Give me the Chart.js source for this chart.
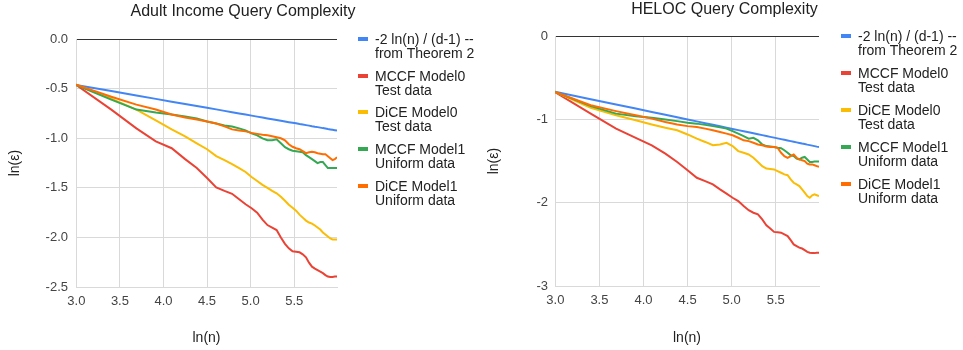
<!DOCTYPE html>
<html>
<head>
<meta charset="utf-8">
<script src="https://cdn.jsdelivr.net/npm/chart.js@4.4.1/dist/chart.umd.min.js"></script>
<style>
  body { margin: 0; background: #fff; }
  #wrap { position: relative; width: 963px; height: 350px; overflow: hidden; font-family: "Liberation Sans", Arial, sans-serif; }
  .box { position: absolute; top: 0; height: 350px; }
  .legend { position: absolute; font-size: 14px; line-height: 14px; color: #222; }
  .item { position: relative; padding-left: 17px; white-space: nowrap; }
  .swatch { position: absolute; left: 0; top: 5px; width: 10px; height: 4px; }
</style>
</head>
<body>
<div id="wrap">
  <div class="box" style="left:0;width:486px"><canvas id="adult"></canvas></div>
  <div class="box" style="left:486px;width:477px"><canvas id="heloc"></canvas></div>
  <div class="legend" id="adultLegend" style="left:358px;top:32px"></div>
  <div class="legend" id="helocLegend" style="left:841px;top:29px"></div>
</div>
<script>
// x = ln(n) for n = 20, 30, ..., 400
const lnN = [2.996, 3.401, 3.689, 3.912, 4.094, 4.248, 4.382, 4.500, 4.605, 4.700,
  4.787, 4.868, 4.942, 5.011, 5.075, 5.136, 5.193, 5.247, 5.298, 5.347,
  5.394, 5.438, 5.481, 5.521, 5.561, 5.598, 5.635, 5.670, 5.704, 5.737,
  5.768, 5.799, 5.829, 5.858, 5.886, 5.914, 5.940, 5.966, 5.991];

const seriesNames = [
  ['-2 ln(n) / (d-1) --', 'from Theorem 2'],
  ['MCCF Model0', 'Test data'],
  ['DiCE Model0', 'Test data'],
  ['MCCF Model1', 'Uniform data'],
  ['DiCE Model1', 'Uniform data']
];
const seriesColors = ['#4285f4', '#ea4335', '#fbbc04', '#34a853', '#ff6d01'];

// Adult Income
const adultBound = [-0.461, -0.523, -0.568, -0.602, -0.630, -0.654, -0.674, -0.692, -0.708, -0.723,
  -0.737, -0.749, -0.760, -0.771, -0.781, -0.790, -0.799, -0.807, -0.815, -0.823,
  -0.830, -0.837, -0.843, -0.849, -0.856, -0.861, -0.867, -0.872, -0.878, -0.883,
  -0.887, -0.892, -0.897, -0.901, -0.906, -0.910, -0.914, -0.918, -0.922];
const adultMccf0 = [-0.46, -0.71, -0.90, -1.03, -1.10, -1.21, -1.30, -1.40, -1.495, -1.53,
  -1.56, -1.615, -1.665, -1.705, -1.75, -1.82, -1.875, -1.90, -1.925, -2.00,
  -2.065, -2.11, -2.14, -2.145, -2.15, -2.17, -2.20, -2.255, -2.295, -2.315,
  -2.33, -2.345, -2.36, -2.38, -2.395, -2.40, -2.40, -2.395, -2.395];
const adultDice0 = [-0.46, -0.60, -0.71, -0.82, -0.91, -0.98, -1.05, -1.11, -1.18, -1.22,
  -1.26, -1.30, -1.34, -1.39, -1.43, -1.47, -1.50, -1.53, -1.555, -1.59,
  -1.63, -1.67, -1.70, -1.73, -1.77, -1.80, -1.83, -1.85, -1.86, -1.88,
  -1.90, -1.92, -1.95, -1.97, -1.99, -2.01, -2.02, -2.02, -2.02];
const adultMccf1 = [-0.46, -0.61, -0.71, -0.74, -0.76, -0.78, -0.80, -0.83, -0.85, -0.87,
  -0.88, -0.90, -0.92, -0.95, -0.97, -1.00, -1.02, -1.02, -1.01, -1.05,
  -1.09, -1.11, -1.125, -1.13, -1.135, -1.14, -1.17, -1.19, -1.21, -1.23,
  -1.25, -1.24, -1.24, -1.27, -1.30, -1.30, -1.30, -1.30, -1.30];
const adultDice1 = [-0.46, -0.58, -0.66, -0.71, -0.76, -0.79, -0.81, -0.83, -0.85, -0.88,
  -0.91, -0.92, -0.93, -0.945, -0.955, -0.965, -0.97, -0.98, -0.99, -1.00,
  -1.02, -1.06, -1.085, -1.10, -1.11, -1.13, -1.15, -1.14, -1.135, -1.14,
  -1.15, -1.155, -1.16, -1.16, -1.18, -1.20, -1.22, -1.21, -1.19];

// HELOC
const helocBound = [-0.666, -0.756, -0.820, -0.869, -0.910, -0.944, -0.974, -1.000, -1.023, -1.045,
  -1.064, -1.082, -1.098, -1.114, -1.128, -1.141, -1.154, -1.166, -1.177, -1.188,
  -1.199, -1.209, -1.218, -1.227, -1.236, -1.244, -1.252, -1.260, -1.268, -1.275,
  -1.282, -1.289, -1.295, -1.302, -1.308, -1.314, -1.320, -1.326, -1.331];
const helocMccf0 = [-0.67, -0.93, -1.11, -1.22, -1.31, -1.41, -1.51, -1.61, -1.70, -1.74,
  -1.78, -1.84, -1.89, -1.94, -1.98, -2.04, -2.09, -2.12, -2.14, -2.20,
  -2.27, -2.31, -2.35, -2.355, -2.36, -2.38, -2.40, -2.45, -2.50, -2.52,
  -2.54, -2.55, -2.57, -2.59, -2.60, -2.605, -2.605, -2.60, -2.60];
const helocDice0 = [-0.67, -0.86, -0.95, -1.01, -1.06, -1.10, -1.13, -1.18, -1.23, -1.27,
  -1.31, -1.30, -1.28, -1.32, -1.38, -1.40, -1.42, -1.46, -1.51, -1.56,
  -1.59, -1.595, -1.60, -1.62, -1.64, -1.66, -1.67, -1.72, -1.76, -1.78,
  -1.80, -1.84, -1.88, -1.92, -1.94, -1.91, -1.90, -1.91, -1.92];
const helocMccf1 = [-0.67, -0.84, -0.93, -0.96, -0.98, -1.00, -1.02, -1.04, -1.05, -1.065,
  -1.08, -1.095, -1.11, -1.14, -1.17, -1.20, -1.23, -1.22, -1.25, -1.30,
  -1.32, -1.325, -1.33, -1.34, -1.345, -1.37, -1.40, -1.43, -1.44, -1.47,
  -1.48, -1.46, -1.45, -1.48, -1.51, -1.51, -1.505, -1.505, -1.505];
const helocDice1 = [-0.67, -0.83, -0.90, -0.95, -0.99, -1.03, -1.06, -1.08, -1.09, -1.11,
  -1.13, -1.15, -1.17, -1.19, -1.22, -1.25, -1.26, -1.28, -1.30, -1.31,
  -1.325, -1.33, -1.33, -1.34, -1.40, -1.44, -1.46, -1.44, -1.42, -1.46,
  -1.48, -1.49, -1.50, -1.53, -1.54, -1.54, -1.55, -1.56, -1.57];

Chart.defaults.font.family = '"Liberation Sans", Arial, sans-serif';
Chart.defaults.animation = false;

var gridGray = '#d9d9d9';

function makeChart(id, opt) {
  var datasets = opt.series.map(function(s, i) {
    return {
      label: seriesNames[i].join(' '),
      data: lnN.map(function(x, j) { return { x: x, y: s[j] }; }),
      borderColor: seriesColors[i],
      backgroundColor: seriesColors[i],
      borderWidth: 2,
      pointRadius: 0,
      tension: 0,
      order: 5 - i
    };
  });
  return new Chart(document.getElementById(id), {
    type: 'line',
    data: { datasets: datasets },
    options: {
      responsive: true,
      maintainAspectRatio: false,
      plugins: {
        legend: { display: false },
        tooltip: { enabled: false },
        title: {
          display: true,
          text: opt.title,
          color: '#212121',
          font: { size: 16, weight: 'normal' },
          padding: { top: opt.titleTop, bottom: opt.titleBottom }
        }
      },
      scales: {
        x: {
          type: 'linear',
          min: lnN[0],
          max: lnN[lnN.length - 1],
          afterFit: function(s) { s.height = opt.xHeight; },
          ticks: {
            stepSize: 0.5,
            includeBounds: false,
            padding: 7,
            color: '#444',
            font: { size: 13 },
            maxRotation: 0,
            callback: function(v) { return v.toFixed(1); }
          },
          grid: { color: gridGray, drawTicks: false },
          border: { color: gridGray },
          title: { display: true, text: 'ln(n)', color: '#222', font: { size: 14 }, padding: { top: 0, bottom: 3 } }
        },
        y: {
          min: opt.yMin,
          max: 0,
          afterFit: function(s) { s.width = opt.yWidth; },
          ticks: {
            stepSize: opt.yStep,
            padding: opt.yPad,
            color: '#444',
            font: { size: 13 },
            callback: function(v) { return v.toFixed(opt.yDec); }
          },
          grid: {
            drawTicks: false,
            color: function(c) { return c.tick && c.tick.value === 0 ? '#333' : gridGray; }
          },
          border: { color: gridGray },
          title: { display: true, text: 'ln(ε)', color: '#222', font: { size: 14 }, padding: { top: opt.yTitlePad, bottom: 0 } }
        },
        gap: {
          type: 'linear',
          position: 'right',
          afterFit: function(s) { s.width = opt.gapWidth; },
          ticks: { display: false },
          grid: { display: false },
          border: { display: false }
        }
      }
    }
  });
}

function buildLegend(id, step) {
  var el = document.getElementById(id);
  seriesNames.forEach(function(lines, i) {
    var item = document.createElement('div');
    item.className = 'item';
    item.style.height = step + 'px';
    var sw = document.createElement('span');
    sw.className = 'swatch';
    sw.style.background = seriesColors[i];
    item.appendChild(sw);
    lines.forEach(function(t) {
      var d = document.createElement('div');
      d.textContent = t;
      item.appendChild(d);
    });
    el.appendChild(item);
  });
}

makeChart('adult', {
  title: 'Adult Income Query Complexity',
  series: [adultBound, adultMccf0, adultDice0, adultMccf1, adultDice1],
  yMin: -2.5, yStep: 0.5, yDec: 1,
  titleTop: 2, titleBottom: 18,
  xHeight: 63, yWidth: 76, yPad: 8, yTitlePad: 7, gapWidth: 149
});
makeChart('heloc', {
  title: 'HELOC Query Complexity',
  series: [helocBound, helocMccf0, helocDice0, helocMccf1, helocDice1],
  yMin: -3, yStep: 1, yDec: 0,
  titleTop: 0, titleBottom: 17,
  xHeight: 64, yWidth: 69, yPad: 7, yTitlePad: 0, gapWidth: 144
});
buildLegend('adultLegend', 36.7);
buildLegend('helocLegend', 37);
</script>
</body>
</html>
